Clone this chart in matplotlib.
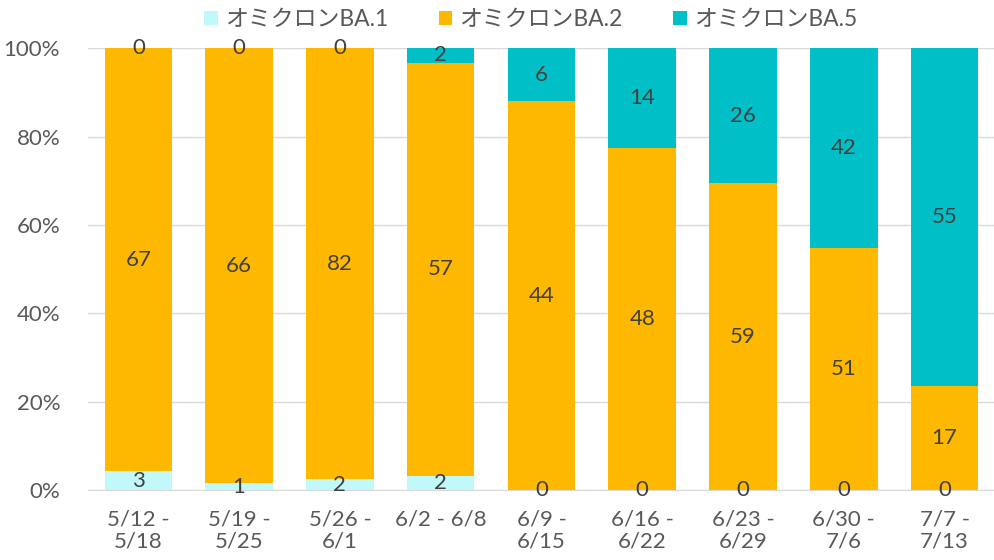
import matplotlib.pyplot as plt
import numpy as np
from matplotlib.ticker import PercentFormatter

plt.rcParams['font.family'] = ['Lato', 'Noto Sans CJK JP', 'DejaVu Sans']

# Dados
weeks = ["5/12 -\n5/18", "5/19 -\n5/25", "5/26 -\n6/1", "6/2 - 6/8", "6/9 -\n6/15",
         "6/16 -\n6/22", "6/23 -\n6/29", "6/30 -\n7/6", "7/7 -\n7/13"]
ba1 = [3, 1, 2, 2, 0, 0, 0, 0, 0]
ba2 = [67, 66, 82, 57, 44, 48, 59, 51, 17]
ba5 = [0, 0, 0, 2, 6, 14, 26, 42, 55]

names = ["オミクロンBA.1", "オミクロンBA.2", "オミクロンBA.5"]
colors = ["#C1F9FA", "#FFB800", "#00BFC7"]

counts = np.array([ba1, ba2, ba5], dtype=float)
totals = counts.sum(axis=0)
shares = counts / totals * 100

fig = plt.figure(figsize=(9.95, 5.6), dpi=100)
ax = fig.add_axes([0.0884, 0.125, 0.9116, 0.789])

x = np.arange(len(weeks))
bottom = np.zeros(len(weeks))
for i in range(3):
    ax.bar(x, shares[i], 0.67, bottom=bottom, color=colors[i], label=names[i], zorder=2)
    for j in range(len(weeks)):
        ax.text(x[j], bottom[j] + shares[i][j] / 2, str(int(counts[i][j])),
                ha='center', va='center', fontsize=16, color='#404040', zorder=3)
    bottom += shares[i]

ax.set_xlim(-0.5, len(weeks) - 0.5)
ax.set_ylim(0, 100)
ax.set_yticks(range(0, 101, 20))
ax.yaxis.set_major_formatter(PercentFormatter(decimals=0))
ax.set_xticks(x)
ax.set_xticklabels(weeks, linespacing=1.15)
ax.grid(axis='y', color='#D9D9D9', linewidth=1, zorder=0)
for s in ['top', 'right', 'left']:
    ax.spines[s].set_visible(False)
ax.spines['bottom'].set_color('#D9D9D9')
ax.tick_params(length=0, labelsize=16, colors='#595959')
ax.tick_params(axis='y', pad=20)
ax.tick_params(axis='x', pad=14)

ax.legend(loc='center', bbox_to_anchor=(0.488, 1.065), ncol=3, frameon=False,
          fontsize=16.5, labelcolor='#595959', handlelength=0.6, handleheight=0.6,
          handletextpad=0.3, columnspacing=2.2, borderaxespad=0)

fig.savefig('out.png', dpi=100)
